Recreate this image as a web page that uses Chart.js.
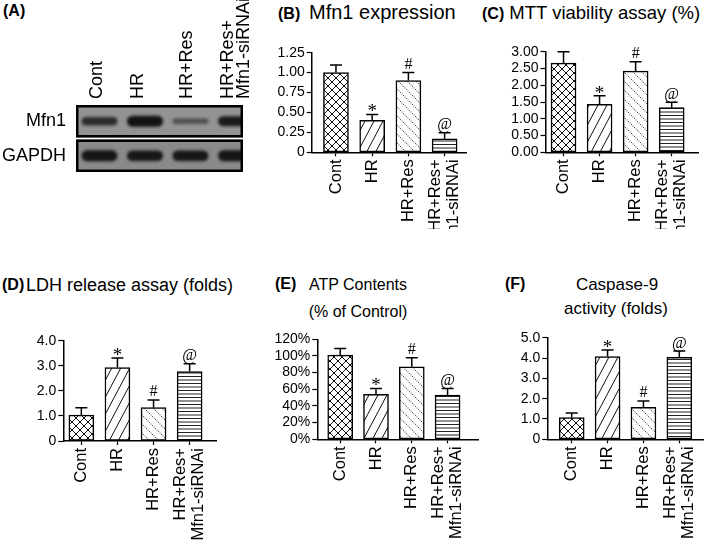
<!DOCTYPE html>
<html>
<head>
<meta charset="utf-8">
<script src="https://cdn.jsdelivr.net/npm/chart.js@4.4.1/dist/chart.umd.min.js"></script>
<style>
  body { margin: 0; width: 709px; height: 545px; position: relative; overflow: hidden; background: #fff;
         font-family: "Liberation Sans", Arial, sans-serif; color: #000; }
  canvas { position: absolute; }
  .t { position: absolute; line-height: 1; white-space: nowrap; }
  .lab { position: absolute; line-height: 1; font-size: 16px; font-weight: bold; }
  .c { transform: translateX(-50%); }
</style>
</head>
<body>
<div class="lab" style="left:3px;top:3px">(A)</div>
<div class="lab" style="left:278px;top:6px">(B)</div>
<div class="t" style="left:309px;top:2.4px;font-size:20px">Mfn1 expression</div>
<div class="t" style="left:482px;top:3.6px;font-size:18.5px"><b style="font-size:16px">(C)</b> MTT viability assay (%)</div>
<div class="lab" style="left:2px;top:277px">(D)</div>
<div class="t" style="left:26px;top:275.5px;font-size:18px">LDH release assay (folds)</div>
<div class="lab" style="left:275px;top:276px">(E)</div>
<div class="t c" style="left:358px;top:276.5px;font-size:16px">ATP Contents</div>
<div class="t c" style="left:358px;top:304.2px;font-size:16px">(% of Control)</div>
<div class="lab" style="left:505px;top:275.5px">(F)</div>
<div class="t c" style="left:617px;top:276px;font-size:17px">Caspase-9</div>
<div class="t c" style="left:616px;top:300px;font-size:17px">activity (folds)</div>

<script>
// ---- data ----
const groups = ['Cont', 'HR', 'HR+Res', ['HR+Res+', 'Mfn1-siRNAi']];
const signif = ['', '*', '#', '@'];

const blotRows = ['Mfn1', 'GAPDH'];
const mfn1Band = [0.72, 0.92, 0.45, 0.85];
const gapdhBand = [0.9, 0.88, 0.88, 0.9];

const mfn1Mean = [1.00, 0.40, 0.90, 0.17];
const mfn1Sem = [0.095, 0.075, 0.10, 0.075];
const mfn1Ticks = [0, 0.25, 0.5, 0.75, 1, 1.25];
const mfn1TickLabels = ['0', '0.25', '0.50', '0.75', '1.00', '1.25'];

const mttMean = [2.66, 1.43, 2.42, 1.33];
const mttSem = [0.34, 0.26, 0.28, 0.16];
const mttTicks = [0, 0.5, 1, 1.5, 2, 2.5, 3];
const mttTickLabels = ['0.00', '0.50', '1.00', '1.50', '2.00', '2.50', '3.00'];

const ldhMean = [1.03, 2.93, 1.33, 2.77];
const ldhSem = [0.30, 0.38, 0.31, 0.31];
const ldhTicks = [0, 1, 2, 3, 4];
const ldhTickLabels = ['0', '1.0', '2.0', '3.0', '4.0'];

const atpMean = [101, 54, 87, 53];
const atpSem = [8, 7, 11, 8];
const atpTicks = [0, 20, 40, 60, 80, 100, 120];
const atpTickLabels = ['0%', '20%', '40%', '60%', '80%', '100%', '120%'];

const cas9Mean = [1.07, 4.07, 1.57, 4.03];
const cas9Sem = [0.23, 0.33, 0.32, 0.31];
const cas9Ticks = [0, 1, 2, 3, 4, 5];
const cas9TickLabels = ['0', '1.0', '2.0', '3.0', '4.0', '5.0'];

Chart.defaults.font.family = '"Liberation Sans", Arial, sans-serif';
Chart.defaults.color = '#000';
Chart.defaults.animation = false;

// ---- hatch fills ----
function tile(w, h, draw) {
  const c = document.createElement('canvas');
  c.width = w; c.height = h;
  const g = c.getContext('2d');
  g.fillStyle = '#fff';
  g.fillRect(0, 0, w, h);
  g.strokeStyle = '#111';
  g.fillStyle = '#222';
  g.lineWidth = 1;
  draw(g, w, h);
  return g.createPattern(c, 'repeat');
}
const crossFill = tile(8, 8, (g, w, h) => {
  g.beginPath();
  g.moveTo(-1, -1); g.lineTo(w + 1, h + 1);
  g.moveTo(w + 1, -1); g.lineTo(-1, h + 1);
  g.stroke();
});
const slashFill = tile(9, 17, (g, w, h) => {
  g.beginPath();
  for (const dx of [-w, 0, w]) { g.moveTo(dx - 1, h + 1.9); g.lineTo(dx + w + 1, -1.9); }
  g.stroke();
});
const dotFill = tile(9, 9, (g) => {
  g.fillStyle = '#555';
  for (const k of [0, 1.5, 3, 4.5, 6, 7.5]) g.fillRect(k, k, 1, 1);
});
const lineFill = tile(4, 7, (g) => {
  g.fillRect(0, 1, 4, 1);
  g.fillRect(0, 4.5, 4, 1);
});
const fills = [crossFill, slashFill, dotFill, lineFill];

function addCanvas(left, top, w, h) {
  const cv = document.createElement('canvas');
  cv.width = w; cv.height = h;
  cv.style.left = left + 'px';
  cv.style.top = top + 'px';
  document.body.appendChild(cv);
  return cv;
}

// ---- bar panels ----
function barPanel(box, lanes, bottom, mean, sem, tickVals, tickLabels) {
  const left = Math.floor(box.l - 55), top = Math.floor(box.t - 14);
  const w = Math.ceil(box.r + 5) - left, h = bottom - top;
  const cv = addCanvas(left, top, w, h);
  const yW = box.l - left, padT = box.t - top, padR = left + w - box.r, xH = top + h - box.b;
  const pxLane = (box.r - box.l) / (lanes[1] - lanes[0]);
  const FS = 16.5, LH = 1.11;
  const shift = FS * LH / 2 / pxLane;

  new Chart(cv, {
    type: 'bar',
    data: {
      datasets: [{
        data: mean.map((v, i) => ({ x: i, y: v })),
        backgroundColor: fills,
        borderColor: '#000',
        borderWidth: 1.5,
        borderSkipped: false,
        barThickness: 25
      }]
    },
    options: {
      responsive: false,
      events: [],
      layout: { padding: { top: padT, right: padR, left: 0, bottom: 0 } },
      plugins: { legend: { display: false }, tooltip: { enabled: false } },
      scales: {
        x: {
          type: 'linear', min: lanes[0], max: lanes[1], offset: false,
          afterBuildTicks: s => { s.ticks = [0, 1, 2, 3 - shift, 3].map(v => ({ value: v })); },
          afterFit: s => { s.height = xH; },
          grid: { offset: false, drawOnChartArea: false, tickLength: 4, tickWidth: 1.2,
                  tickColor: c => c.index === 3 ? 'rgba(0,0,0,0)' : '#000' },
          border: { color: '#000', width: 1.5 },
          ticks: { autoSkip: false, minRotation: 90, maxRotation: 90, padding: 3,
                   font: { size: FS, lineHeight: LH },
                   callback: (v, i) => i < 4 ? groups[i] : '' }
        },
        y: {
          min: 0, max: tickVals[tickVals.length - 1],
          afterBuildTicks: s => { s.ticks = tickVals.map(v => ({ value: v })); },
          afterFit: s => { s.width = yW; },
          grid: { drawOnChartArea: false, tickLength: 5, tickWidth: 1.2, tickColor: '#000' },
          border: { color: '#000', width: 1.5 },
          ticks: { autoSkip: false, padding: 2, font: { size: 14 }, callback: (v, i) => tickLabels[i] }
        }
      }
    },
    plugins: [{
      id: 'errbars',
      afterDatasetsDraw(chart) {
        const ctx = chart.ctx, ys = chart.scales.y;
        ctx.save();
        ctx.strokeStyle = '#000';
        ctx.lineWidth = 1.5;
        chart.getDatasetMeta(0).data.forEach((bar, i) => {
          const yt = ys.getPixelForValue(mean[i] + sem[i]);
          ctx.beginPath();
          ctx.moveTo(bar.x, bar.y);
          ctx.lineTo(bar.x, yt);
          ctx.moveTo(bar.x - 6, yt);
          ctx.lineTo(bar.x + 6, yt);
          ctx.stroke();
          const m = signif[i];
          if (m) {
            ctx.fillStyle = '#000';
            ctx.font = (m === '*' ? '19px' : '16px') + ' "Liberation Serif", "Times New Roman", serif';
            ctx.textAlign = 'center';
            ctx.textBaseline = 'alphabetic';
            ctx.fillText(m, bar.x, m === '*' ? yt + 3 : yt - 3.5);
          }
        });
        ctx.restore();
      }
    }]
  });
}

barPanel({ l: 311.7, t: 52.7, r: 466.7, b: 152.3 }, [-0.67, 3.61], 229, mfn1Mean, mfn1Sem, mfn1Ticks, mfn1TickLabels);
barPanel({ l: 545.5, t: 51.7, r: 698, b: 152.3 }, [-0.5, 3.73], 229, mttMean, mttSem, mttTicks, mttTickLabels);
barPanel({ l: 63.3, t: 340.7, r: 216.7, b: 441 }, [-0.5, 3.75], 545, ldhMean, ldhSem, ldhTicks, ldhTickLabels);
barPanel({ l: 317.3, t: 339.3, r: 478, b: 439.3 }, [-0.64, 3.85], 545, atpMean, atpSem, atpTicks, atpTickLabels);
barPanel({ l: 547.3, t: 337.7, r: 703, b: 439.3 }, [-0.68, 3.66], 545, cas9Mean, cas9Sem, cas9Ticks, cas9TickLabels);

// ---- western blot (A) ----
const bandCache = {};
function bandImg(v) {
  if (bandCache[v]) return bandCache[v];
  const c = document.createElement('canvas');
  c.width = 52; c.height = 28;
  const g = c.getContext('2d');
  g.filter = 'blur(1.6px)';
  g.fillStyle = 'rgba(18,18,18,' + Math.min(1, v + 0.08) + ')';
  const hh = 6 * v;
  g.beginPath();
  g.roundRect(8, 14 - hh, 36, 2 * hh, hh);
  g.fill();
  bandCache[v] = c;
  return c;
}

// blot area: x 76..243, y 104..173
const cvA = addCanvas(0, 0, 250, 184);
const blotMin = -0.516, blotMax = 3.154, blotPx = 167 / (blotMax - blotMin);
const blotFont = 18, blotLH = 0.9;
const laneLabelNudge = [-0.06, -0.16, -0.08, 0];
new Chart(cvA, {
  type: 'scatter',
  data: {
    datasets: [{
      data: mfn1Band.map((v, i) => ({ x: i, y: blotRows[0], v }))
        .concat(gapdhBand.map((v, i) => ({ x: i, y: blotRows[1], v }))),
      pointStyle: c => bandImg(c.raw.v),
      clip: 0
    }]
  },
  options: {
    responsive: false,
    events: [],
    layout: { padding: { top: 0, right: 7, bottom: 11, left: 0 } },
    plugins: { legend: { display: false }, tooltip: { enabled: false } },
    scales: {
      x: {
        type: 'linear', position: 'top', min: blotMin, max: blotMax,
        afterBuildTicks: s => {
          const lh = blotFont * blotLH;
          const t = [0, 1, 2, 3].map(i => ({
            value: i + laneLabelNudge[i] + (Array.isArray(groups[i]) ? 1.5 : 1) * lh / blotPx
          }));
          t.push({ value: blotMax });
          s.ticks = t;
        },
        afterFit: s => { s.height = 104; },
        grid: { display: false },
        border: { display: false },
        ticks: { autoSkip: false, minRotation: 90, maxRotation: 90, padding: -3,
                 font: { size: blotFont, lineHeight: blotLH }, callback: (v, i) => i < 4 ? groups[i] : '' }
      },
      y: {
        type: 'category', labels: blotRows, offset: true,
        afterFit: s => { s.width = 76; },
        grid: { display: true, drawOnChartArea: false, drawTicks: true, tickLength: 10, tickColor: 'rgba(0,0,0,0)' },
        border: { display: false },
        ticks: { padding: 0, font: { size: 18 } }
      }
    }
  },
  plugins: [{
    id: 'blotBoxes',
    beforeDatasetsDraw(chart) {
      const { ctx, chartArea: a, scales: { y } } = chart;
      const half = (a.bottom - a.top) / blotRows.length / 2;
      ctx.save();
      blotRows.forEach((r, i) => {
        const yc = y.getPixelForValue(i);
        ctx.fillStyle = i === 0 ? '#939393' : '#8a8a8a';
        ctx.fillRect(a.left, yc - half + 1, a.right - a.left, 2 * half - 2);
      });
      ctx.restore();
    },
    afterDatasetsDraw(chart) {
      const { ctx, chartArea: a, scales: { y } } = chart;
      const half = (a.bottom - a.top) / blotRows.length / 2;
      ctx.save();
      ctx.strokeStyle = '#000';
      ctx.lineWidth = 2.5;
      blotRows.forEach((r, i) => {
        const yc = y.getPixelForValue(i);
        ctx.strokeRect(a.left + 1.25, yc - half + 1 + 1.25, a.right - a.left - 2.5, 2 * half - 4.5);
      });
      ctx.restore();
    }
  }]
});
</script>
</body>
</html>
